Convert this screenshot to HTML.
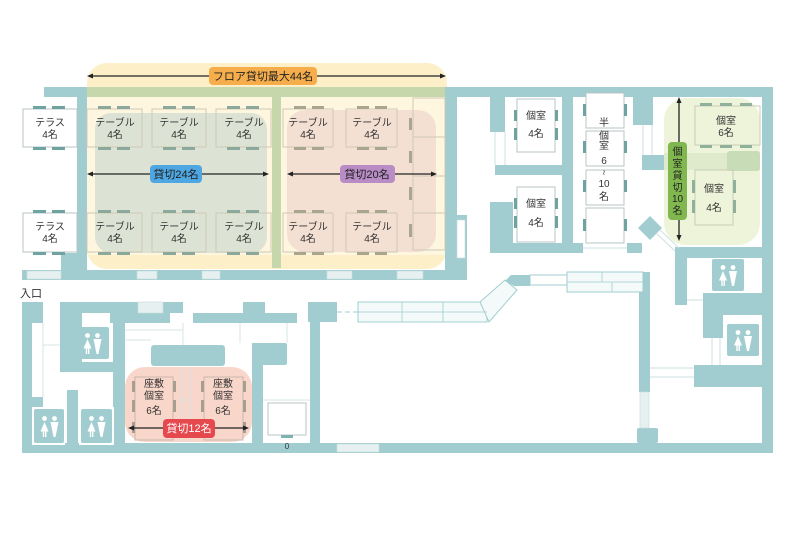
<!DOCTYPE html>
<html><head><meta charset="utf-8"><style>
html,body{margin:0;padding:0;background:#fff;}
svg{display:block;}
text{font-family:"Liberation Sans","Noto Sans CJK JP",sans-serif;fill:#333;}
.t{font-size:10px;text-anchor:middle;}
.l{font-size:11px;text-anchor:middle;fill:#222;}
</style></head><body>
<svg width="794" height="559" viewBox="0 0 794 559" xmlns="http://www.w3.org/2000/svg">
<rect width="794" height="559" fill="#fff"/>

<!-- ===== Floor overlay (44) ===== -->
<rect x="87" y="63" width="360" height="206" rx="20" fill="#fdf0c9"/>
<rect x="87" y="97" width="358" height="158" fill="#fef6de"/>
<!-- green (tinted) walls inside overlay -->
<rect x="87" y="87" width="358" height="10" fill="#c6d7ab"/>
<rect x="272" y="97" width="9" height="171" fill="#c6d7ab"/>
<!-- blue overlay 24 -->
<rect x="95" y="113" width="172" height="140" rx="16" fill="#dde3d4"/>
<!-- pink overlay 20 -->
<rect x="287" y="110" width="149" height="142" rx="18" fill="#f3e0d3"/>

<!-- ===== Teal walls top section ===== -->
<g fill="#a1cdd0">
<rect x="44" y="87" width="43" height="10"/>
<rect x="445" y="87" width="328" height="10"/>
<rect x="77" y="97" width="10" height="173"/>
<rect x="61" y="253" width="26" height="17"/>
<rect x="22" y="270" width="445" height="10"/>
<rect x="445" y="97" width="12" height="183"/>
<rect x="457" y="215" width="10" height="65"/>
<!-- private rooms -->
<rect x="490" y="97" width="15" height="35"/>
<rect x="495" y="165" width="67" height="10"/>
<rect x="562" y="97" width="11" height="155"/>
<rect x="490" y="202" width="23" height="50"/>
<rect x="490" y="243" width="93" height="10"/>
<rect x="627" y="243" width="15" height="10"/>
<rect x="633" y="97" width="20" height="28"/>
<rect x="642" y="155" width="22" height="15"/>
<polygon points="650,216 662,228 650,240 638,228"/>
<!-- right complex -->
<rect x="675" y="247" width="97" height="11"/>
<rect x="675" y="247" width="12" height="58"/>
<rect x="762" y="87" width="11" height="366"/>
<rect x="703" y="293" width="59" height="22"/>
<rect x="703" y="315" width="20" height="23"/>
<rect x="694" y="365" width="68" height="22"/>
</g>
<!-- windows in walls -->
<g fill="#e6f0f1" stroke="#c9dcdd" stroke-width="0.6">
<rect x="27" y="271" width="34" height="8"/>
<rect x="137" y="271" width="20" height="8"/>
<rect x="202" y="271" width="18" height="8"/>
<rect x="327" y="271" width="25" height="8"/>
<rect x="397" y="271" width="26" height="8"/>
<rect x="457" y="220" width="8" height="38" fill="#fff"/>
</g>
<g stroke="#cfe0e1" stroke-width="1" fill="none">
<line x1="495" y1="132" x2="495" y2="165"/><line x1="505" y1="132" x2="505" y2="165"/>
<line x1="643" y1="125" x2="643" y2="155"/><line x1="652" y1="125" x2="652" y2="155"/>
<line x1="583" y1="248" x2="627" y2="248"/>
<line x1="656" y1="233" x2="675" y2="251"/><line x1="660" y1="230" x2="679" y2="248"/>
<line x1="687" y1="300" x2="703" y2="300"/>
<line x1="712" y1="338" x2="712" y2="365"/><line x1="720" y1="338" x2="720" y2="365"/>
<line x1="650" y1="368" x2="694" y2="368"/><line x1="650" y1="377" x2="694" y2="377"/>
</g>

<!-- green region (個室貸切10名) -->
<rect x="664" y="98" width="96" height="147" rx="22" fill="#eef4d9"/>
<rect x="664" y="153" width="96" height="17" fill="#dfe9cb"/>
<rect x="727" y="151" width="33" height="20" rx="3" fill="#c8dcb8"/>

<!-- ===== Tables top section ===== -->
<!-- terrace -->
<g fill="#fff" stroke="#b8c4c4" stroke-width="1">
<rect x="23" y="109" width="54" height="38"/>
<rect x="23" y="213" width="54" height="39"/>
</g>
<g fill="#6fa39f">
<rect x="33" y="106" width="13" height="3"/><rect x="52" y="106" width="13" height="3"/>
<rect x="33" y="147" width="13" height="3"/><rect x="52" y="147" width="13" height="3"/>
<rect x="33" y="210" width="13" height="3"/><rect x="52" y="210" width="13" height="3"/>
<rect x="33" y="252" width="13" height="3"/><rect x="52" y="252" width="13" height="3"/>
</g>
<!-- テーブル tables -->
<g fill="none" stroke="#cfc9b6" stroke-width="1">
<rect x="87" y="109" width="55" height="38"/><rect x="152" y="109" width="54" height="38"/><rect x="216" y="109" width="55" height="38"/>
<rect x="283" y="109" width="50" height="38"/><rect x="346" y="109" width="51" height="38"/>
<rect x="87" y="213" width="55" height="39"/><rect x="152" y="213" width="54" height="39"/><rect x="216" y="213" width="55" height="39"/>
<rect x="283" y="213" width="50" height="39"/><rect x="346" y="213" width="51" height="39"/>
<rect x="413" y="98" width="32" height="39"/><rect x="413" y="137" width="32" height="39"/>
<rect x="413" y="176" width="32" height="37"/><rect x="413" y="213" width="32" height="37"/>
</g>
<g fill="#8aa89b">
<rect x="98" y="106" width="13" height="3"/><rect x="117" y="106" width="13" height="3"/>
<rect x="163" y="106" width="13" height="3"/><rect x="182" y="106" width="13" height="3"/>
<rect x="227" y="106" width="13" height="3"/><rect x="246" y="106" width="13" height="3"/>
<rect x="98" y="147" width="13" height="3"/><rect x="117" y="147" width="13" height="3"/>
<rect x="163" y="147" width="13" height="3"/><rect x="182" y="147" width="13" height="3"/>
<rect x="227" y="147" width="13" height="3"/><rect x="246" y="147" width="13" height="3"/>
<rect x="98" y="210" width="13" height="3"/><rect x="117" y="210" width="13" height="3"/>
<rect x="163" y="210" width="13" height="3"/><rect x="182" y="210" width="13" height="3"/>
<rect x="227" y="210" width="13" height="3"/><rect x="246" y="210" width="13" height="3"/>
<rect x="98" y="252" width="13" height="3"/><rect x="117" y="252" width="13" height="3"/>
<rect x="163" y="252" width="13" height="3"/><rect x="182" y="252" width="13" height="3"/>
<rect x="227" y="252" width="13" height="3"/><rect x="246" y="252" width="13" height="3"/>
</g>
<g fill="#a9a68d">
<rect x="294" y="106" width="12" height="3"/><rect x="312" y="106" width="12" height="3"/>
<rect x="357" y="106" width="12" height="3"/><rect x="375" y="106" width="12" height="3"/>
<rect x="294" y="147" width="12" height="3"/><rect x="312" y="147" width="12" height="3"/>
<rect x="357" y="147" width="12" height="3"/><rect x="375" y="147" width="12" height="3"/>
<rect x="294" y="210" width="12" height="3"/><rect x="312" y="210" width="12" height="3"/>
<rect x="357" y="210" width="12" height="3"/><rect x="375" y="210" width="12" height="3"/>
<rect x="294" y="252" width="12" height="3"/><rect x="312" y="252" width="12" height="3"/>
<rect x="357" y="252" width="12" height="3"/><rect x="375" y="252" width="12" height="3"/>
<rect x="409" y="118" width="3" height="12"/><rect x="409" y="151" width="3" height="12"/>
<rect x="409" y="187" width="3" height="13"/><rect x="409" y="224" width="3" height="13"/>
</g>

<!-- private room tables -->
<g fill="#fff" stroke="#b8c4c4" stroke-width="1">
<rect x="517" y="99" width="38" height="53"/>
<rect x="517" y="187" width="38" height="55"/>
<rect x="586" y="93" width="38" height="35"/>
<rect x="586" y="131" width="38" height="35"/>
<rect x="586" y="170" width="38" height="35"/>
<rect x="586" y="208" width="38" height="35"/>
</g>
<g fill="none" stroke="#c7ceb4" stroke-width="1">
<rect x="695" y="106" width="65" height="39"/>
<rect x="695" y="170" width="38" height="55"/>
</g>
<g fill="#6fa39f">
<rect x="514" y="110" width="3" height="11"/><rect x="514" y="128" width="3" height="12"/>
<rect x="555" y="110" width="3" height="11"/><rect x="555" y="128" width="3" height="12"/>
<rect x="514" y="198" width="3" height="11"/><rect x="514" y="216" width="3" height="12"/>
<rect x="555" y="198" width="3" height="11"/><rect x="555" y="216" width="3" height="12"/>
<rect x="583" y="104" width="3" height="12"/><rect x="624" y="104" width="3" height="12"/>
<rect x="583" y="141" width="3" height="12"/><rect x="624" y="141" width="3" height="12"/>
<rect x="583" y="180" width="3" height="12"/><rect x="624" y="180" width="3" height="12"/>
<rect x="583" y="219" width="3" height="12"/><rect x="624" y="219" width="3" height="12"/>
</g>
<g fill="#8fb09a">
<rect x="700" y="103" width="12" height="3"/><rect x="720" y="103" width="12" height="3"/><rect x="740" y="103" width="12" height="3"/>
<rect x="700" y="145" width="12" height="3"/><rect x="720" y="145" width="12" height="3"/><rect x="740" y="145" width="12" height="3"/>
<rect x="692" y="180" width="3" height="13"/><rect x="692" y="200" width="3" height="13"/>
<rect x="733" y="180" width="3" height="13"/><rect x="733" y="200" width="3" height="13"/>
</g>

<!-- ===== Bottom section ===== -->
<!-- pink 12 overlay -->
<rect x="125" y="367" width="127" height="75" rx="20" fill="#f9d6ca"/>
<g fill="#a1cdd0">
<rect x="22" y="302" width="10" height="151"/>
<rect x="22" y="302" width="21" height="21"/>
<rect x="22" y="397" width="21" height="11"/>
<rect x="60" y="302" width="123" height="11"/>
<rect x="110" y="313" width="60" height="10"/>
<rect x="60" y="313" width="22" height="59"/>
<rect x="63" y="362" width="62" height="10"/>
<rect x="113" y="323" width="12" height="130"/>
<rect x="67" y="390" width="11" height="63"/>
<rect x="193" y="313" width="104" height="10"/>
<rect x="243" y="302" width="22" height="11"/>
<rect x="308" y="302" width="29" height="20"/>
<rect x="310" y="302" width="10" height="151"/>
<rect x="151" y="345" width="74" height="21" rx="3"/>
<rect x="252" y="343" width="35" height="22" rx="2"/>
<rect x="252" y="343" width="11" height="110"/>
<rect x="22" y="443" width="751" height="10"/>
<rect x="639" y="272" width="11" height="120"/>
<rect x="637" y="428" width="21" height="15" rx="2"/>
<polygon points="505,281 511,275 530,275 530,286 514,286"/>
</g>
<g fill="#e6f0f1" stroke="#c9dcdd" stroke-width="0.6">
<rect x="138" y="302" width="25" height="11"/>
<rect x="337" y="444" width="42" height="8"/>
<rect x="640" y="392" width="9" height="36"/>
</g>
<g stroke="#d6e4e5" stroke-width="1" fill="none">
<line x1="43" y1="323" x2="43" y2="397"/>
<line x1="43" y1="345" x2="60" y2="345"/>
<line x1="125" y1="340" x2="151" y2="340"/>
<line x1="125" y1="330" x2="183" y2="330"/>
<line x1="183" y1="323" x2="183" y2="345"/>
<line x1="240" y1="323" x2="240" y2="343"/>
<line x1="287" y1="323" x2="287" y2="343"/>
<line x1="263" y1="400" x2="310" y2="400"/>
<line x1="181" y1="367" x2="181" y2="442"/><line x1="190" y1="367" x2="190" y2="442"/>
<line x1="181" y1="400" x2="190" y2="400"/>
</g>
<!-- counter -->
<line x1="337" y1="312" x2="358" y2="312" stroke="#a1cdd0" stroke-width="1" stroke-dasharray="5,3"/>
<g fill="#f4f9f9" stroke="#a1cdd0" stroke-width="1">
<rect x="358" y="302" width="129" height="20"/>
<polygon points="480,302 505,280 517,290 489,322"/>
<rect x="530" y="275" width="37" height="10" fill="#fff"/>
<rect x="567" y="272" width="76" height="20"/>
</g>
<g stroke="#a1cdd0" stroke-width="0.8">
<line x1="402" y1="302" x2="402" y2="322"/><line x1="443" y1="302" x2="443" y2="322"/>
<line x1="358" y1="312" x2="487" y2="312"/>
<line x1="567" y1="282" x2="643" y2="282"/>
<line x1="602" y1="272" x2="602" y2="282"/><line x1="612" y1="282" x2="612" y2="292"/>
</g>
<!-- 0 box -->
<rect x="268" y="403" width="38" height="32" fill="#fff" stroke="#b8c4c4" stroke-width="1"/>
<rect x="281" y="435" width="12" height="3" fill="#7fb3b0"/>
<text x="287" y="449" style="font-size:8px;text-anchor:middle;">0</text>

<!-- zashiki tables -->
<g fill="none" stroke="#c9b7ad" stroke-width="1">
<rect x="135" y="377" width="38" height="63"/>
<rect x="204" y="377" width="39" height="63"/>
</g>
<g fill="#a89e90">
<rect x="132" y="381" width="3" height="11"/><rect x="132" y="400" width="3" height="12"/><rect x="132" y="422" width="3" height="11"/>
<rect x="173" y="381" width="3" height="11"/><rect x="173" y="400" width="3" height="12"/><rect x="173" y="422" width="3" height="11"/>
<rect x="201" y="381" width="3" height="11"/><rect x="201" y="400" width="3" height="12"/><rect x="201" y="422" width="3" height="11"/>
<rect x="243" y="381" width="3" height="11"/><rect x="243" y="400" width="3" height="12"/><rect x="243" y="422" width="3" height="11"/>
</g>

<!-- toilets -->
<rect x="32" y="407" width="33" height="38" fill="#fff"/>
<rect x="79" y="407" width="35" height="38" fill="#fff"/>
<rect x="710" y="258" width="36" height="35" fill="#fff"/>
<rect x="723" y="315" width="39" height="50" fill="#fff"/>
<g id="wc1" transform="translate(76,327)">
<rect width="33" height="32" rx="2" fill="#a1cdd0"/>
<circle cx="11.5" cy="8.5" r="2.4" fill="#fff"/><path d="M11.5 12 L7.5 21.5 L15.5 21.5 Z" fill="#fff"/>
<rect x="9.8" y="21" width="1.4" height="6" fill="#fff"/><rect x="12" y="21" width="1.4" height="6" fill="#fff"/>
<circle cx="21.5" cy="8.5" r="2.4" fill="#fff"/><path d="M17.5 12 L25.5 12 L22.5 27 L20.5 27 Z" fill="#fff"/>
</g>
<g transform="translate(34,409)">
<rect width="30" height="34" rx="2" fill="#a1cdd0"/>
<circle cx="10.5" cy="9.5" r="2.4" fill="#fff"/><path d="M10.5 13 L6.5 22.5 L14.5 22.5 Z" fill="#fff"/>
<rect x="8.8" y="22" width="1.4" height="6" fill="#fff"/><rect x="11" y="22" width="1.4" height="6" fill="#fff"/>
<circle cx="20.5" cy="9.5" r="2.4" fill="#fff"/><path d="M16.5 13 L24.5 13 L21.5 28 L19.5 28 Z" fill="#fff"/>
</g>
<g transform="translate(81,409)">
<rect width="31" height="34" rx="2" fill="#a1cdd0"/>
<circle cx="10.5" cy="9.5" r="2.4" fill="#fff"/><path d="M10.5 13 L6.5 22.5 L14.5 22.5 Z" fill="#fff"/>
<rect x="8.8" y="22" width="1.4" height="6" fill="#fff"/><rect x="11" y="22" width="1.4" height="6" fill="#fff"/>
<circle cx="20.5" cy="9.5" r="2.4" fill="#fff"/><path d="M16.5 13 L24.5 13 L21.5 28 L19.5 28 Z" fill="#fff"/>
</g>
<g transform="translate(712,259)">
<rect width="32" height="32" rx="2" fill="#a1cdd0"/>
<circle cx="11" cy="8.5" r="2.4" fill="#fff"/><path d="M11 12 L7 21.5 L15 21.5 Z" fill="#fff"/>
<rect x="9.3" y="21" width="1.4" height="6" fill="#fff"/><rect x="11.5" y="21" width="1.4" height="6" fill="#fff"/>
<circle cx="21" cy="8.5" r="2.4" fill="#fff"/><path d="M17 12 L25 12 L22 27 L20 27 Z" fill="#fff"/>
</g>
<g transform="translate(727,324)">
<rect width="32" height="32" rx="2" fill="#a1cdd0"/>
<circle cx="11" cy="8.5" r="2.4" fill="#fff"/><path d="M11 12 L7 21.5 L15 21.5 Z" fill="#fff"/>
<rect x="9.3" y="21" width="1.4" height="6" fill="#fff"/><rect x="11.5" y="21" width="1.4" height="6" fill="#fff"/>
<circle cx="21" cy="8.5" r="2.4" fill="#fff"/><path d="M17 12 L25 12 L22 27 L20 27 Z" fill="#fff"/>
</g>

<!-- ===== Table texts ===== -->
<g class="t">
<text class="t" x="50" y="126">テラス</text><text class="t" x="50" y="138">4名</text>
<text class="t" x="50" y="230">テラス</text><text class="t" x="50" y="242">4名</text>
<text class="t" x="115" y="126">テーブル</text><text class="t" x="115" y="138">4名</text>
<text class="t" x="179" y="126">テーブル</text><text class="t" x="179" y="138">4名</text>
<text class="t" x="244" y="126">テーブル</text><text class="t" x="244" y="138">4名</text>
<text class="t" x="308" y="126">テーブル</text><text class="t" x="308" y="138">4名</text>
<text class="t" x="372" y="126">テーブル</text><text class="t" x="372" y="138">4名</text>
<text class="t" x="115" y="230">テーブル</text><text class="t" x="115" y="242">4名</text>
<text class="t" x="179" y="230">テーブル</text><text class="t" x="179" y="242">4名</text>
<text class="t" x="244" y="230">テーブル</text><text class="t" x="244" y="242">4名</text>
<text class="t" x="308" y="230">テーブル</text><text class="t" x="308" y="242">4名</text>
<text class="t" x="372" y="230">テーブル</text><text class="t" x="372" y="242">4名</text>
<text class="t" x="536" y="119">個室</text><text class="t" x="536" y="137">4名</text>
<text class="t" x="536" y="207">個室</text><text class="t" x="536" y="226">4名</text>
<text class="t" x="604" y="126">半</text>
<text class="t" x="604" y="139">個</text>
<text class="t" x="604" y="149">室</text>
<text class="t" x="604" y="164">6</text>
<text class="t" x="604" y="175" style="font-size:8px">≀</text>
<text class="t" x="604" y="187">10</text>
<text class="t" x="604" y="200">名</text>
<text class="t" x="726" y="124">個室</text><text class="t" x="726" y="136">6名</text>
<text class="t" x="714" y="192">個室</text><text class="t" x="714" y="211">4名</text>
<text class="t" x="154" y="387">座敷</text><text class="t" x="154" y="399">個室</text><text class="t" x="154" y="414">6名</text>
<text class="t" x="223" y="387">座敷</text><text class="t" x="223" y="399">個室</text><text class="t" x="223" y="414">6名</text>
</g>
<text x="20" y="297" style="font-size:11px;">入口</text>

<!-- ===== Arrows & labels ===== -->
<g stroke="#222" stroke-width="1.3" fill="none">
<line x1="91" y1="76" x2="442" y2="76"/>
<line x1="91" y1="174" x2="265" y2="174"/>
<line x1="291" y1="174" x2="433" y2="174"/>
<line x1="679" y1="101" x2="679" y2="237"/>
<line x1="132" y1="428" x2="245" y2="428"/>
</g>
<g fill="#222">
<polygon points="87,76 93,73.5 93,78.5"/><polygon points="446,76 440,73.5 440,78.5"/>
<polygon points="87,174 93,171.5 93,176.5"/><polygon points="269,174 263,171.5 263,176.5"/>
<polygon points="287,174 293,171.5 293,176.5"/><polygon points="437,174 431,171.5 431,176.5"/>
<polygon points="679,97 676.5,103 681.5,103"/><polygon points="679,241 676.5,235 681.5,235"/>
<polygon points="128,428 134,425.5 134,430.5"/><polygon points="249,428 243,425.5 243,430.5"/>
</g>
<rect x="209" y="67" width="108" height="18" rx="4" fill="#f6ae4c"/>
<text class="l" x="263" y="80">フロア貸切最大44名</text>
<rect x="150" y="165" width="52" height="18" rx="4" fill="#4ea6e2"/>
<text class="l" x="176" y="178">貸切24名</text>
<rect x="340" y="165" width="55" height="18" rx="4" fill="#b98cc6"/>
<text class="l" x="367" y="178">貸切20名</text>
<rect x="163" y="419" width="52" height="19" rx="4" fill="#e5484d"/>
<text class="l" x="189" y="432" style="fill:#fff">貸切12名</text>
<rect x="668" y="142" width="19" height="78" rx="4" fill="#80b84f"/>
<g class="l" style="font-size:10px">
<text class="l" x="677.5" y="155" style="font-size:10px">個</text>
<text class="l" x="677.5" y="167" style="font-size:10px">室</text>
<text class="l" x="677.5" y="179" style="font-size:10px">貸</text>
<text class="l" x="677.5" y="191" style="font-size:10px">切</text>
<text class="l" x="677.5" y="202" style="font-size:10px">10</text>
<text class="l" x="677.5" y="214" style="font-size:10px">名</text>
</g>
</svg>
</body></html>
